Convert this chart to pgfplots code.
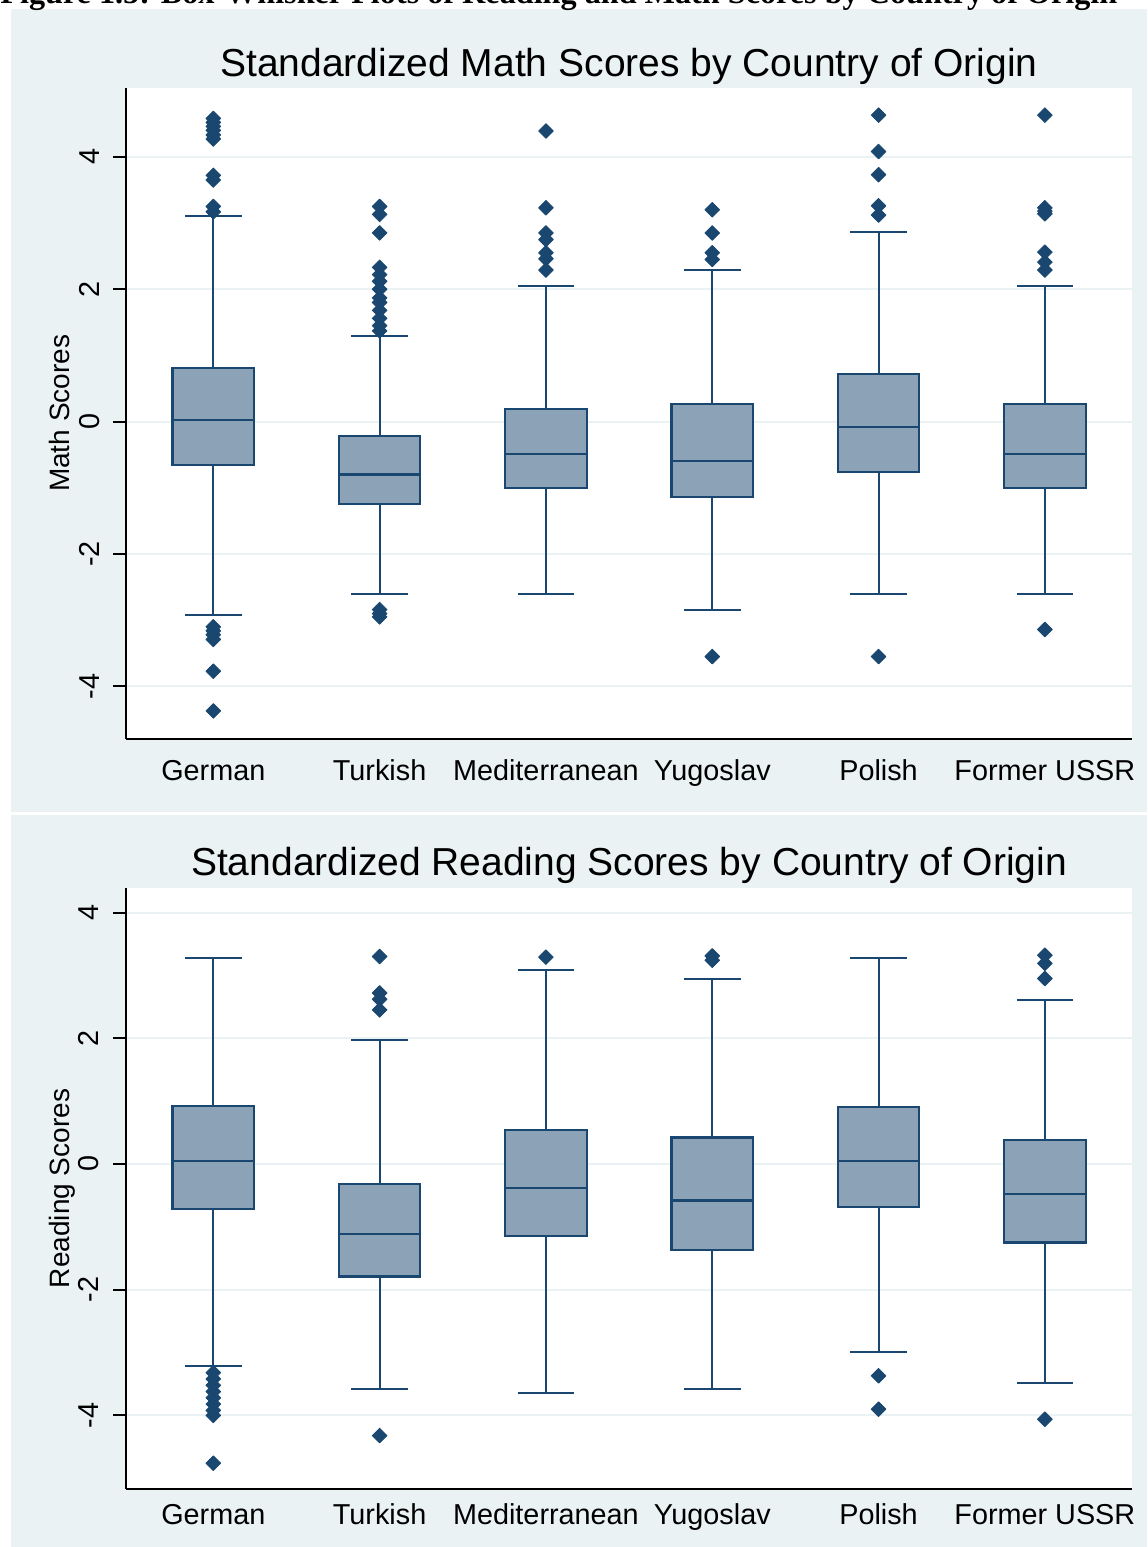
\documentclass[border=0pt]{standalone}
\usepackage{fontspec}
\setmainfont{Liberation Sans}
\newfontfamily\capfont{Liberation Serif}
\usepackage{pgfplots}
\pgfplotsset{compat=1.18}
\usepgfplotslibrary{statistics}
\definecolor{stnavy}{HTML}{1A476F}
\definecolor{stfill}{HTML}{8CA3B7}
\definecolor{stbg}{HTML}{EAF2F3}
\pgfplotsset{
  stpanel/.style={
    scale only axis, width=503pt,
    xmin=-0.525, xmax=5.524,
    axis x line*=bottom, axis y line*=left,
    axis line style={line width=1pt, black},
    xtick={0,1,2,3,4,5},
    xticklabels={German,Turkish,Mediterranean,Yugoslav,Polish,Former USSR},
    x tick style={draw=none},
    ytick={-4,-2,0,2,4}, yticklabels={-4,-2,0,2,4},
    y tick style={line width=1pt, black},
    tick align=outside, major tick length=6.5pt,
    ymajorgrids, major grid style={stbg, line width=1pt},
    axis background/.style={fill=white},
    tick label style={font=\fontsize{14.4}{16}\selectfont, text=black},
    yticklabel style={xshift=-7pt, rotate=90, anchor=base},
    label style={font=\fontsize{14}{16}\selectfont},
    title style={font=\fontsize{19.5}{22}\selectfont, anchor=base},
    boxplot/draw direction=y,
  },
  sb/.style={
    boxplot prepared={draw position=#1, box extend=0.49, whisker extend=0.34},
    mark=square*, mark size=2.6pt,
    mark options={rotate=45, fill=stnavy, draw=stnavy, line width=0.4pt, line join=round},
    boxplot/every box/.style={draw=stnavy, fill=stfill, line width=1.1pt},
    boxplot/every whisker/.style={draw=stnavy, line width=1pt},
    boxplot/every median/.style={draw=stnavy, line width=1.1pt},
  },
}
\begin{document}
\begin{tikzpicture}
\path[use as bounding box] (0pt,0pt) rectangle (573.5pt,773.5pt);
\clip (0pt,0pt) rectangle (573.5pt,773.5pt);
\fill[stbg] (5.5pt,367.35pt) rectangle (573.5pt,768.85pt);
\fill[stbg] (5.5pt,0pt) rectangle (573.5pt,366pt);
\node[anchor=base west, inner sep=0pt, font=\capfont\bfseries\fontsize{16.1}{18}\selectfont] at (0pt,771.5pt) {Figure 1.5: Box-Whisker Plots of Reading and Math Scores by Country of Origin};

% ---------- Math ----------
\begin{axis}[stpanel, at={(63pt,404.15pt)}, anchor=south west, height=325.35pt,
  ymin=-4.79, ymax=5.04,
  title={Standardized Math Scores by Country of Origin},
  title style={at={(axis description cs:0.5,1)}, yshift=-0.5pt},
  xticklabel style={anchor=base, yshift=-14.6pt},
  ylabel={Math Scores},
  ylabel style={at={([xshift=-28pt]axis description cs:0,0.5)}, anchor=base, rotate=0},
]
\addplot[sb=0, boxplot prepared={lower whisker=-2.92, lower quartile=-0.66, median=0.02, upper quartile=0.81, upper whisker=3.10}]
 table[row sep=\\, y index=0] {v\\ 4.58\\ 4.52\\ 4.46\\ 4.40\\ 4.33\\ 4.27\\ 3.72\\ 3.65\\ 3.25\\ 3.17\\ -3.10\\ -3.16\\ -3.22\\ -3.29\\ -3.77\\ -4.37\\};
\addplot[sb=1, boxplot prepared={lower whisker=-2.61, lower quartile=-1.24, median=-0.80, upper quartile=-0.22, upper whisker=1.29}]
 table[row sep=\\, y index=0] {v\\ 3.25\\ 3.13\\ 2.85\\ 2.33\\ 2.22\\ 2.12\\ 2.00\\ 1.87\\ 1.80\\ 1.68\\ 1.56\\ 1.45\\ 1.37\\ -2.84\\ -2.90\\ -2.95\\};
\addplot[sb=2, boxplot prepared={lower whisker=-2.61, lower quartile=-1.00, median=-0.49, upper quartile=0.19, upper whisker=2.05}]
 table[row sep=\\, y index=0] {v\\ 4.39\\ 3.23\\ 2.85\\ 2.75\\ 2.55\\ 2.46\\ 2.29\\};
\addplot[sb=3, boxplot prepared={lower whisker=-2.85, lower quartile=-1.14, median=-0.59, upper quartile=0.27, upper whisker=2.29}]
 table[row sep=\\, y index=0] {v\\ 3.20\\ 2.85\\ 2.55\\ 2.45\\ -3.55\\};
\addplot[sb=4, boxplot prepared={lower whisker=-2.61, lower quartile=-0.76, median=-0.08, upper quartile=0.72, upper whisker=2.86}]
 table[row sep=\\, y index=0] {v\\ 4.63\\ 4.08\\ 3.73\\ 3.26\\ 3.12\\ -3.55\\};
\addplot[sb=5, boxplot prepared={lower whisker=-2.61, lower quartile=-1.00, median=-0.49, upper quartile=0.27, upper whisker=2.05}]
 table[row sep=\\, y index=0] {v\\ 4.63\\ 3.23\\ 3.18\\ 3.14\\ 2.56\\ 2.41\\ 2.29\\ -3.14\\};
\end{axis}

% ---------- Reading ----------
\begin{axis}[stpanel, at={(63pt,29pt)}, anchor=south west, height=300.5pt,
  ymin=-5.17, ymax=4.39,
  title={Standardized Reading Scores by Country of Origin},
  title style={at={(axis description cs:0.5,1)}, yshift=0pt},
  xticklabel style={anchor=base, yshift=-11pt},
  ylabel={Reading Scores},
  ylabel style={at={([xshift=-28pt]axis description cs:0,0.5)}, anchor=base, rotate=0},
]
\addplot[sb=0, boxplot prepared={lower whisker=-3.21, lower quartile=-0.72, median=0.05, upper quartile=0.92, upper whisker=3.28}]
 table[row sep=\\, y index=0] {v\\ -3.32\\ -3.42\\ -3.52\\ -3.62\\ -3.72\\ -3.82\\ -3.92\\ -4.00\\ -4.76\\};
\addplot[sb=1, boxplot prepared={lower whisker=-3.58, lower quartile=-1.79, median=-1.12, upper quartile=-0.32, upper whisker=1.97}]
 table[row sep=\\, y index=0] {v\\ 3.30\\ 2.72\\ 2.62\\ 2.45\\ -4.32\\};
\addplot[sb=2, boxplot prepared={lower whisker=-3.64, lower quartile=-1.15, median=-0.38, upper quartile=0.54, upper whisker=3.08}]
 table[row sep=\\, y index=0] {v\\ 3.29\\};
\addplot[sb=3, boxplot prepared={lower whisker=-3.58, lower quartile=-1.37, median=-0.58, upper quartile=0.42, upper whisker=2.94}]
 table[row sep=\\, y index=0] {v\\ 3.31\\ 3.24\\};
\addplot[sb=4, boxplot prepared={lower whisker=-2.99, lower quartile=-0.69, median=0.05, upper quartile=0.91, upper whisker=3.28}]
 table[row sep=\\, y index=0] {v\\ -3.37\\ -3.90\\};
\addplot[sb=5, boxplot prepared={lower whisker=-3.48, lower quartile=-1.25, median=-0.48, upper quartile=0.38, upper whisker=2.61}]
 table[row sep=\\, y index=0] {v\\ 3.32\\ 3.19\\ 2.95\\ -4.06\\};
\end{axis}
\end{tikzpicture}
\end{document}
